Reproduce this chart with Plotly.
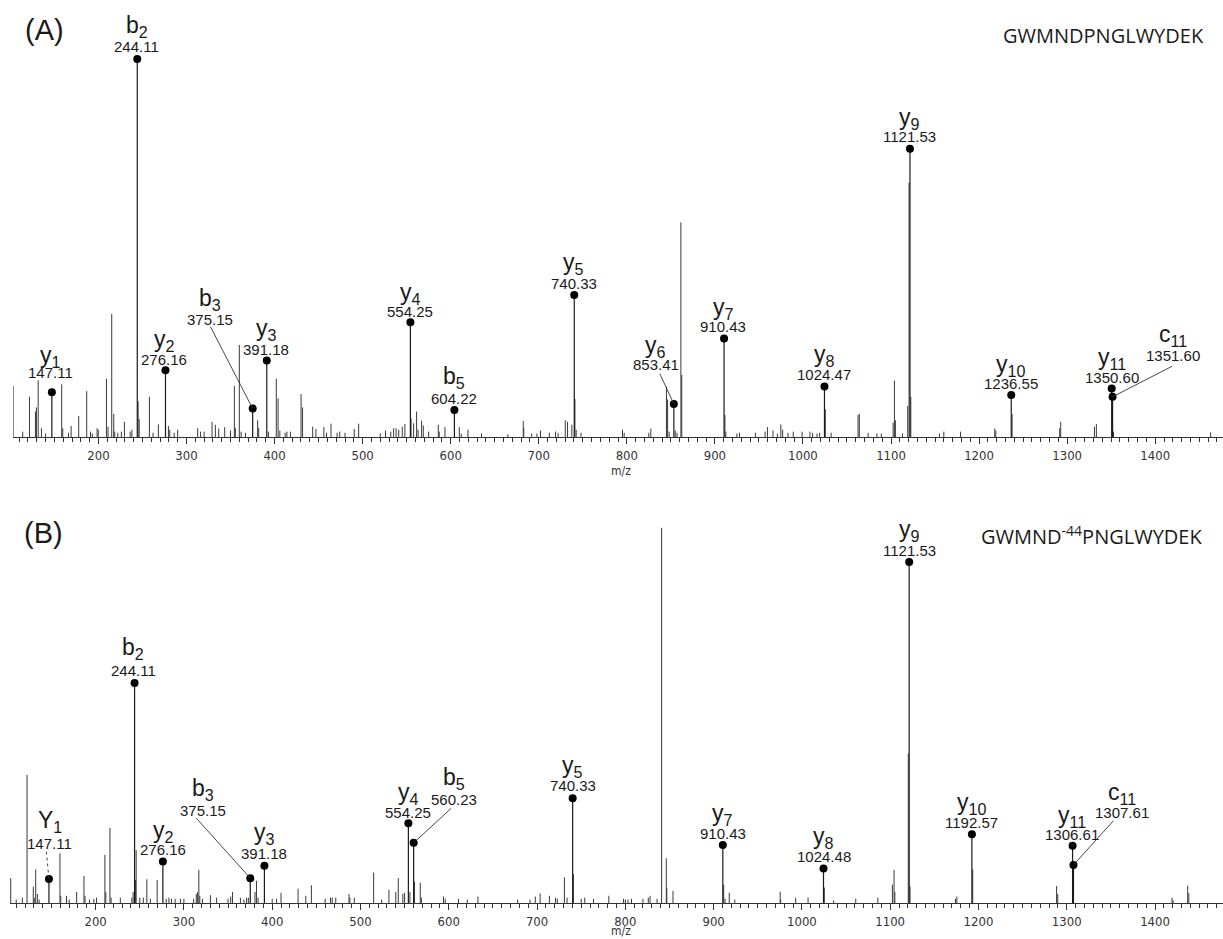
import plotly.graph_objects as go

# ---------------- Panel A data ----------------
A_PEAK_MZ = [103.1, 114, 121.7, 128.5, 129.6, 131.6, 135.3, 140, 158.3, 159.5, 166, 169, 177.6, 186.7, 191, 193,
             198.5, 199.8, 209.1, 210.9, 215.1, 217.4, 218.5, 222, 226, 229.5, 236, 238, 245.1, 246.3, 257.9, 262,
             268.1, 279.5, 281, 286, 290, 312.7, 316, 320, 329, 332.8, 336.6, 343.4, 350, 354.4, 355.5, 360, 362,
             367, 380.8, 382, 393, 402, 404, 406, 412, 414, 418, 430.1, 431.8, 443.3, 447, 456, 459, 464.1, 471,
             474, 480, 490.5, 495.5, 520, 526, 532, 535.2, 538, 541, 545, 548, 555, 557.9, 561.3, 563, 567, 568.9,
             575, 585.9, 587, 593.5, 609.8, 612, 619.6, 635, 665, 682.4, 683, 692, 698, 702, 712, 719, 722, 730.1,
             732.7, 737.6, 741.1, 742.5, 748, 795.1, 797, 825, 827.3, 845, 846.3, 848, 855, 857, 861.4, 862.4,
             911.4, 912.5, 925, 928, 946, 957, 959.7, 966, 971, 974.9, 977, 983, 989, 999, 1008, 1011, 1016, 1019,
             1025.4, 1032, 1062.6, 1064, 1074, 1084, 1089, 1102.4, 1103.9, 1105, 1113, 1119, 1120.5, 1122.5, 1155,
             1160, 1179, 1217.8, 1219, 1237.5, 1291.6, 1292.7, 1331, 1333.2, 1352.6, 1463]
A_PEAK_INT = [13.6, 1.5, 10.7, 6.8, 7.9, 15.1, 2.4, 1.0, 14.0, 2.4, 1.2, 3.0, 5.6, 12.2, 1.5, 1.0,
              2.4, 2.0, 15.5, 2.8, 32.6, 6.2, 1.5, 1.2, 1.5, 4.1, 1.5, 2.0, 9.5, 4.8, 10.7, 1.2,
              3.4, 3.0, 2.0, 1.2, 2.0, 2.4, 1.5, 1.5, 4.1, 3.3, 2.3, 2.7, 1.8, 13.6, 2.5, 24.4, 1.5,
              1.2, 4.5, 2.5, 1.5, 15.5, 10.3, 1.8, 1.2, 1.5, 1.5, 11.4, 7.9, 2.8, 2.2, 2.7, 1.2, 3.6, 1.2,
              1.5, 1.2, 2.2, 3.6, 1.0, 1.8, 1.5, 2.4, 2.4, 2.0, 2.8, 3.5, 5.0, 3.7, 6.8, 2.0, 4.4, 3.1,
              1.5, 3.3, 1.5, 2.7, 2.7, 1.0, 2.0, 1.0, 0.8, 4.3, 2.5, 1.0, 1.0, 1.8, 1.2, 1.5, 1.2, 4.5,
              4.1, 3.3, 10.1, 2.0, 1.2, 2.0, 1.2, 1.2, 2.3, 13.4, 10.0, 1.5, 1.8, 1.2, 56.8, 16.5,
              5.9, 1.5, 1.0, 1.2, 1.2, 1.5, 2.7, 1.8, 1.0, 3.4, 2.0, 1.2, 1.5, 1.5, 1.5, 1.2, 1.0, 1.2,
              7.4, 1.2, 5.9, 6.2, 1.2, 1.0, 1.0, 3.9, 15.0, 4.5, 1.0, 8.3, 67.3, 10.7, 1.0,
              1.5, 1.5, 2.3, 1.8, 6.1, 2.4, 4.1, 2.8, 3.5, 1.5, 1.3]

A_ION_NAME = ["y", "b", "y", "b", "y", "y", "b", "y", "y", "y", "y", "y", "y", "y", "c"]
A_ION_SUB = ["1", "2", "2", "3", "3", "4", "5", "5", "6", "7", "8", "9", "10", "11", "11"]
A_ION_MZ = [147.11, 244.11, 276.16, 375.15, 391.18, 554.25, 604.22, 740.33, 853.41, 910.43, 1024.47,
            1121.53, 1236.55, 1350.60, 1351.60]
A_ION_INT = [11.9, 100.0, 17.7, 7.6, 20.3, 30.4, 7.2, 37.6, 8.8, 26.1, 13.4, 76.3, 11.2, 12.9, 10.7]
A_PEPTIDE = "GWMNDPNGLWYDEK"

# ---------------- Panel B data ----------------
B_PEAK_MZ = [103.8, 110, 117, 122.3, 129.4, 130.5, 132.1, 134, 136, 159.6, 160.5, 167, 170, 178.5, 186.8, 188,
             193, 198, 201, 210.5, 211.5, 216.2, 217.5, 228, 241, 242.5, 245.1, 245.9, 250, 254, 258, 262,
             269.7, 280, 283, 286, 290, 296, 300, 311, 314, 315.5, 316.9, 318, 321, 330, 337, 350, 353, 355,
             364, 368, 371, 373, 380.5, 382.2, 384, 400, 405, 410, 429.3, 438, 444.4, 460, 466, 468, 472,
             487, 488, 493, 514.9, 524, 532.2, 540, 542.8, 548, 550, 556, 561.2, 567.7, 569, 594, 596, 611,
             621, 633, 678, 692, 698, 703.5, 714, 721, 723, 731, 734, 741.2, 750, 754, 764, 781.3, 798, 800,
             803, 807, 820, 826, 828, 836, 841.1, 846.4, 847, 854, 911.4, 913, 917.7, 924, 975.4, 976, 993,
             1007, 1025.4, 1036, 1061, 1086, 1102.5, 1104.4, 1105.3, 1120.5, 1122.5, 1174, 1175.5, 1193.5,
             1288.5, 1289.8, 1419.3, 1420.5, 1437, 1438.3]
B_PEAK_INT = [6.7, 1.0, 1.5, 34.2, 4.4, 1.5, 9.0, 2.5, 1.0, 13.3, 2.0, 2.0, 1.0, 3.0, 7.3, 2.0,
              1.0, 1.2, 1.5, 12.9, 3.0, 20.1, 1.5, 1.5, 1.5, 3.0, 6.2, 14.2, 1.5, 1.5, 6.4, 1.2,
              6.2, 1.2, 1.5, 1.2, 1.2, 1.2, 1.2, 1.2, 2.5, 3.0, 8.9, 2.0, 1.2, 2.2, 1.5, 1.2, 1.8, 3.0,
              1.5, 1.0, 1.5, 1.5, 3.0, 6.0, 1.5, 1.2, 1.2, 2.8, 3.9, 2.0, 4.8, 1.2, 1.5, 1.5, 1.5,
              2.5, 1.5, 1.5, 8.2, 1.0, 3.6, 3.0, 6.7, 2.5, 2.8, 3.0, 5.8, 5.5, 1.5, 1.8, 1.2, 1.2,
              1.0, 1.8, 1.0, 1.0, 1.8, 2.6, 2.0, 1.5, 1.2, 6.9, 1.5, 7.8, 1.2, 1.5, 1.2, 2.0, 1.2, 1.0,
              1.0, 1.2, 1.2, 1.5, 2.0, 1.2, 100.0, 12.0, 4.0, 3.3, 4.9, 1.2, 2.8, 1.0, 3.1, 1.0, 1.5,
              1.5, 4.2, 0.8, 1.2, 1.5, 5.0, 8.9, 3.0, 39.9, 4.5, 1.2, 1.8, 9.0,
              4.6, 2.5, 1.5, 0.8, 4.7, 2.7]

B_ION_NAME = ["Y", "b", "y", "b", "y", "y", "b", "y", "y", "y", "y", "y", "y", "c"]
B_ION_SUB = ["1", "2", "2", "3", "3", "4", "5", "5", "7", "8", "9", "10", "11", "11"]
B_ION_MZ = [147.11, 244.11, 276.16, 375.15, 391.18, 554.25, 560.23, 740.33, 910.43, 1024.48, 1121.53,
            1192.57, 1306.61, 1307.61]
B_ION_INT = [6.5, 58.7, 11.1, 6.7, 10.0, 21.3, 16.1, 28.0, 15.5, 9.3, 90.9, 18.4, 15.3, 10.2]
B_PEPTIDE = "GWMND<sup>-44</sup>PNGLWYDEK"

# ---------------- label placement (pixel offsets from each dot) ----------------
# (dx, label_dy, number_dy, leader_start or None, dotted)
A_LABEL_POS = [(-1.7, -36, -19.6, None, False), (-0.5, -33, -12.3, None, False), (-1, -29.6, -11, None, False),
               (-43, -109.4, -88.7, (-42.3, -82), False), (-0.5, -30.7, -11.4, None, False),
               (0, -29, -10.6, None, False), (0, -33, -11.4, None, False), (-0.7, -31.7, -11.7, None, False),
               (-18.3, -57.6, -39.3, (-14, -30.3), False), (-0.6, -30.4, -12, None, False),
               (0, -30.7, -11.7, None, False), (0, -30.4, -12, None, False), (-0.4, -29, -11, None, False),
               (0, -30.4, -11, None, False), (60.6, -61.3, -41.3, (59.6, -30.6), False)]
B_LABEL_POS = [(0.7, -57.3, -35, (-2.6, -27.3), True), (-1.4, -34.4, -12.7, None, False),
               (0.6, -30, -11.7, None, False), (-47.4, -89, -67.6, (-54, -60), False),
               (0, -32.4, -12.4, None, False), (0, -30, -11, None, False),
               (40.7, -64.4, -43.4, (37.4, -34.4), False), (0, -31.6, -12.3, None, False),
               (0, -31, -12, None, False), (0, -31, -11.6, None, False), (0, -31.7, -11.7, None, False),
               (-0.3, -31, -11.6, None, False), (-1, -29.3, -11, None, False),
               (48.3, -71.6, -52.6, (40, -44.3), False)]

W, H = 1223, 939
X_RANGE = [103, 1477]
A_XDOM = [13 / W, 1.0]
A_YDOM = [1 - 437.3 / H, 1.0]
A_YRANGE = [0, 115.6]
B_XDOM = [10 / W, 1.0]
B_YDOM = [1 - 903.3 / H, 1 - 470 / H]
B_YRANGE = [0, 115.4]

LINE_COLOR = "#3a3a3a"
TEXT_COLOR = "#1a1a1a"
LABEL_FONT = "Liberation Sans, Arial, sans-serif"
TICK_FONT = "DejaVu Sans Condensed, Liberation Sans Narrow, Liberation Sans, sans-serif"

fig = go.Figure()


def stick_xy(mzs, ints):
    xs, ys = [], []
    for m, v in zip(mzs, ints):
        xs += [m, m, None]
        ys += [0, v, None]
    return xs, ys


def add_panel(xa, ya, peak_mz, peak_int, ion_name, ion_sub, ion_mz, ion_int, pos, xdom, ydom, yrange):
    sx = (xdom[1] - xdom[0]) * W / (X_RANGE[1] - X_RANGE[0])
    sy = (ydom[1] - ydom[0]) * H / (yrange[1] - yrange[0])
    xs, ys = stick_xy(peak_mz, peak_int)
    fig.add_trace(go.Scatter(x=xs, y=ys, mode="lines", line=dict(color=LINE_COLOR, width=1),
                             xaxis=xa, yaxis=ya, hoverinfo="skip", showlegend=False))
    xs, ys = stick_xy(ion_mz, ion_int)
    fig.add_trace(go.Scatter(x=xs, y=ys, mode="lines", line=dict(color="#1a1a1a", width=1.2),
                             xaxis=xa, yaxis=ya, hoverinfo="skip", showlegend=False))
    fig.add_trace(go.Scatter(x=ion_mz, y=ion_int, mode="markers",
                             marker=dict(color="black", size=8), cliponaxis=False,
                             xaxis=xa, yaxis=ya, showlegend=False))
    for name, sub, m, v, p in zip(ion_name, ion_sub, ion_mz, ion_int, pos):
        dx, ldy, ndy, leader, dotted = p
        fig.add_annotation(x=m, y=v, xref=xa, yref=ya, text=f"{name}<sub>{sub}</sub>", showarrow=False,
                           xshift=dx, yshift=-ldy, xanchor="center", yanchor="middle",
                           font=dict(family=LABEL_FONT, size=23, color=TEXT_COLOR))
        fig.add_annotation(x=m, y=v, xref=xa, yref=ya, text=f"{m:.2f}", showarrow=False,
                           xshift=dx, yshift=-ndy, xanchor="center", yanchor="middle",
                           font=dict(family=LABEL_FONT, size=15, color=TEXT_COLOR))
        if leader is not None:
            lx, ly = leader
            fig.add_shape(type="line", xref=xa, yref=ya,
                          x0=m + lx / sx, y0=v - ly / sy, x1=m, y1=v,
                          line=dict(color="#333333", width=0.9, dash="dot" if dotted else "solid"))


add_panel("x", "y", A_PEAK_MZ, A_PEAK_INT, A_ION_NAME, A_ION_SUB, A_ION_MZ, A_ION_INT, A_LABEL_POS,
          A_XDOM, A_YDOM, A_YRANGE)
add_panel("x2", "y2", B_PEAK_MZ, B_PEAK_INT, B_ION_NAME, B_ION_SUB, B_ION_MZ, B_ION_INT, B_LABEL_POS,
          B_XDOM, B_YDOM, B_YRANGE)

xaxis_style = dict(range=X_RANGE, showline=True, linecolor="#333333", linewidth=1, showgrid=False,
                   zeroline=False, ticks="outside", ticklen=6, tickwidth=1, tickcolor="#333333",
                   tick0=0, dtick=100, tickfont=dict(family=TICK_FONT, size=13, color="#333333"),
                   minor=dict(dtick=10, tick0=0, ticks="outside", ticklen=3.5, tickwidth=1,
                              tickcolor="#333333", showgrid=False),
                   fixedrange=True)
yaxis_style = dict(visible=False, showgrid=False, zeroline=False, fixedrange=True)

fig.update_layout(
    width=W, height=H, margin=dict(l=0, r=0, t=0, b=0),
    paper_bgcolor="white", plot_bgcolor="white", showlegend=False,
    xaxis=dict(domain=A_XDOM, anchor="y", **xaxis_style),
    yaxis=dict(domain=A_YDOM, anchor="x", range=A_YRANGE, **yaxis_style),
    xaxis2=dict(domain=B_XDOM, anchor="y2", **xaxis_style),
    yaxis2=dict(domain=B_YDOM, anchor="x2", range=B_YRANGE, **yaxis_style),
)

# panel letters, peptide sequences, axis titles
for txt, px, py in [("(A)", 44, 30), ("(B)", 43.3, 533.3)]:
    fig.add_annotation(x=px / W, y=1 - py / H, xref="paper", yref="paper", text=txt, showarrow=False,
                       xanchor="center", yanchor="middle",
                       font=dict(family=LABEL_FONT, size=29, color=TEXT_COLOR))
for txt, px, py in [(A_PEPTIDE, 1206, 35), (B_PEPTIDE, 1204, 535)]:
    fig.add_annotation(x=px / W, y=1 - py / H, xref="paper", yref="paper", text=txt, showarrow=False,
                       xanchor="right", yanchor="middle",
                       font=dict(family="Open Sans, Noto Sans, sans-serif", size=20, color=TEXT_COLOR))
for py in [471, 931]:
    fig.add_annotation(x=621 / W, y=1 - py / H, xref="paper", yref="paper", text="m/z", showarrow=False,
                       xanchor="center", yanchor="middle",
                       font=dict(family=TICK_FONT, size=12, color="#333333"))

fig.write_html("out.html", config={"displayModeBar": False},
               post_script="document.body.style.margin='0px';")
